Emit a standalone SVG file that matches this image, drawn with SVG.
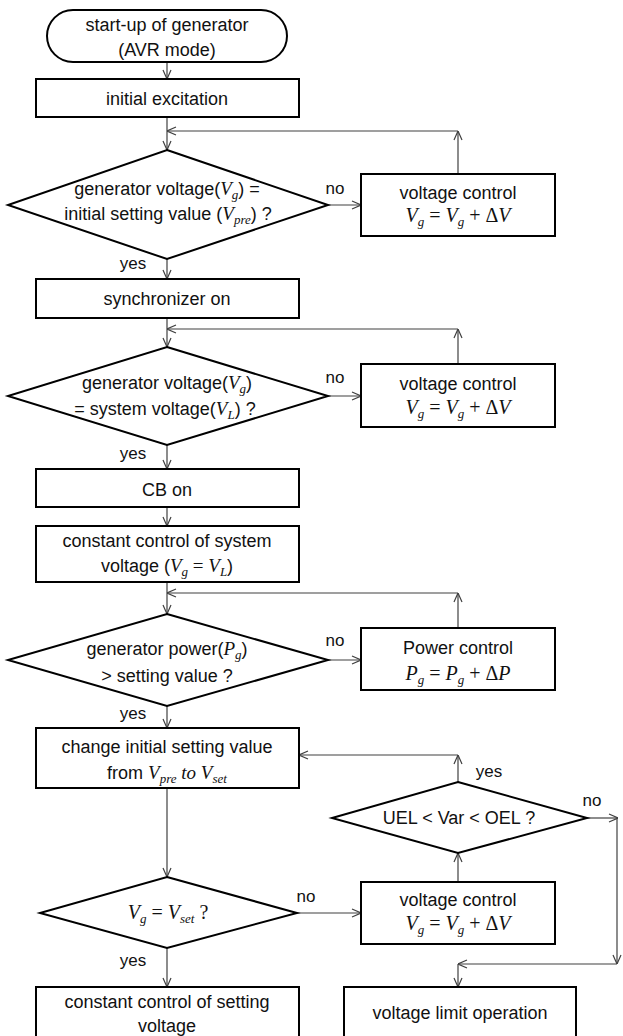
<svg xmlns="http://www.w3.org/2000/svg" width="623" height="1036" viewBox="0 0 623 1036">
<style>
.box{fill:#fff;stroke:#000;stroke-width:2}
.c{fill:none;stroke:#404040;stroke-width:1.2;marker-end:url(#a)}
.t{font-family:"Liberation Sans",Arial,sans-serif;font-size:18px;fill:#111;text-anchor:middle}
.l{font-family:"Liberation Sans",Arial,sans-serif;font-size:17px;fill:#111;text-anchor:middle}
.i{font-family:"Liberation Serif","Times New Roman",serif;font-style:italic;font-size:19px}
.s{font-family:"Liberation Serif","Times New Roman",serif;font-style:italic;font-size:13px}
.m{font-family:"Liberation Serif","Times New Roman",serif;font-size:20px;fill:#111;text-anchor:middle}
</style>
<defs>
<marker id="a" viewBox="0 0 10 10" refX="10" refY="5" markerWidth="10" markerHeight="10" orient="auto" markerUnits="userSpaceOnUse">
<path d="M1,1 L10,5 L1,9" fill="none" stroke="#404040" stroke-width="1.2"/>
</marker>
</defs>
<rect width="623" height="1036" fill="#fff"/>

<g id="connectors">
<path class="c" d="M167,62 V79"/>
<path class="c" d="M167,117 V150"/>
<path class="c" d="M458,174 V131"/>
<path class="c" d="M458,131 H167"/>
<path class="c" d="M328,205 H361"/>
<path class="c" d="M167,259 V279"/>
<path class="c" d="M167,318 V347"/>
<path class="c" d="M458,364 V329"/>
<path class="c" d="M458,329 H167"/>
<path class="c" d="M328,396 H361"/>
<path class="c" d="M167,445 V469"/>
<path class="c" d="M167,507 V526"/>
<path class="c" d="M167,582 V614"/>
<path class="c" d="M458,628 V593"/>
<path class="c" d="M458,593 H167"/>
<path class="c" d="M328,660 H361"/>
<path class="c" d="M167,706 V728"/>
<path class="c" d="M167,788 V877"/>
<path class="c" d="M297,913 H361"/>
<path class="c" d="M458,882 V853"/>
<path class="c" d="M458,782 V755"/>
<path class="c" d="M458,755 H299"/>
<path class="c" d="M587,818 H618"/>
<path class="c" d="M617,818 V964"/>
<path class="c" d="M617,964 H458"/>
<path class="c" d="M458,964 V987"/>
<path class="c" d="M167,948 V987"/>
<text class="l" x="335" y="194">no</text>
<text class="l" x="133" y="269">yes</text>
<text class="l" x="335" y="383">no</text>
<text class="l" x="133" y="459">yes</text>
<text class="l" x="335" y="646">no</text>
<text class="l" x="133" y="719">yes</text>
<text class="l" x="489" y="777">yes</text>
<text class="l" x="592" y="806">no</text>
<text class="l" x="306" y="902">no</text>
<text class="l" x="133" y="966">yes</text>
</g>

<g id="start">
<rect class="box" x="47" y="10" width="240" height="52" rx="26"/>
<text class="t" x="167" y="31">start-up of generator</text>
<text class="t" x="167" y="56">(AVR mode)</text>
</g>

<g id="initial-excitation">
<rect class="box" x="36" y="79" width="263" height="38"/>
<text class="t" x="167" y="105">initial excitation</text>
</g>

<g id="decision1">
<polygon class="box" points="167,150 328,205 167,259 8,205"/>
<text class="t" x="167" y="195">generator voltage(<tspan class="i">V</tspan><tspan class="s" dy="4">g</tspan><tspan dy="-4">) =</tspan></text>
<text class="t" x="168" y="220">initial setting value (<tspan class="i">V</tspan><tspan class="s" dy="4">pre</tspan><tspan dy="-4">) ?</tspan></text>
</g>

<g id="voltage-control1">
<rect class="box" x="361" y="174" width="194" height="62"/>
<text class="t" x="458" y="199">voltage control</text>
<text class="m" x="458" y="222"><tspan font-style="italic">V</tspan><tspan class="s" dy="4">g</tspan><tspan dy="-4"> = </tspan><tspan font-style="italic">V</tspan><tspan class="s" dy="4">g</tspan><tspan dy="-4"> + Δ</tspan><tspan font-style="italic">V</tspan></text>
</g>

<g id="synchronizer">
<rect class="box" x="36" y="279" width="263" height="39"/>
<text class="t" x="167" y="305">synchronizer on</text>
</g>

<g id="decision2">
<polygon class="box" points="167,347 328,396 167,445 8,396"/>
<text class="t" x="167" y="389">generator voltage(<tspan class="i">V</tspan><tspan class="s" dy="4">g</tspan><tspan dy="-4">)</tspan></text>
<text class="t" x="165" y="415">= system voltage(<tspan class="i">V</tspan><tspan class="s" dy="4">L</tspan><tspan dy="-4">) ?</tspan></text>
</g>

<g id="voltage-control2">
<rect class="box" x="361" y="364" width="194" height="63"/>
<text class="t" x="458" y="390">voltage control</text>
<text class="m" x="458" y="414"><tspan font-style="italic">V</tspan><tspan class="s" dy="4">g</tspan><tspan dy="-4"> = </tspan><tspan font-style="italic">V</tspan><tspan class="s" dy="4">g</tspan><tspan dy="-4"> + Δ</tspan><tspan font-style="italic">V</tspan></text>
</g>

<g id="cb-on">
<rect class="box" x="36" y="469" width="263" height="38"/>
<text class="t" x="167" y="496">CB on</text>
</g>

<g id="constant-system">
<rect class="box" x="36" y="526" width="263" height="56"/>
<text class="t" x="167" y="547">constant control of system</text>
<text class="t" x="167" y="572">voltage (<tspan class="i">V</tspan><tspan class="s" dy="4">g</tspan><tspan dy="-4" font-family="Liberation Serif" font-size="19"> = </tspan><tspan class="i">V</tspan><tspan class="s" dy="4">L</tspan><tspan dy="-4">)</tspan></text>
</g>

<g id="decision3">
<polygon class="box" points="167,614 328,660 167,706 8,660"/>
<text class="t" x="167" y="655">generator power(<tspan class="i">P</tspan><tspan class="s" dy="4">g</tspan><tspan dy="-4">)</tspan></text>
<text class="t" x="167" y="682">&gt; setting value ?</text>
</g>

<g id="power-control">
<rect class="box" x="361" y="628" width="194" height="62"/>
<text class="t" x="458" y="654">Power control</text>
<text class="m" x="458" y="680"><tspan font-style="italic">P</tspan><tspan class="s" dy="4">g</tspan><tspan dy="-4"> = </tspan><tspan font-style="italic">P</tspan><tspan class="s" dy="4">g</tspan><tspan dy="-4"> + Δ</tspan><tspan font-style="italic">P</tspan></text>
</g>

<g id="change-setting">
<rect class="box" x="36" y="728" width="263" height="60"/>
<text class="t" x="167" y="753">change initial setting value</text>
<text class="t" x="167" y="779">from <tspan class="i">V</tspan><tspan class="s" dy="4">pre</tspan><tspan class="i" dy="-4"> to </tspan><tspan class="i">V</tspan><tspan class="s" dy="4">set</tspan></text>
</g>

<g id="decision-uel">
<polygon class="box" points="458,782 587,818 458,853 332,818"/>
<text class="t" x="459" y="824">UEL &lt; Var &lt; OEL ?</text>
</g>

<g id="voltage-control3">
<rect class="box" x="361" y="882" width="194" height="62"/>
<text class="t" x="458" y="906">voltage control</text>
<text class="m" x="458" y="930"><tspan font-style="italic">V</tspan><tspan class="s" dy="4">g</tspan><tspan dy="-4"> = </tspan><tspan font-style="italic">V</tspan><tspan class="s" dy="4">g</tspan><tspan dy="-4"> + Δ</tspan><tspan font-style="italic">V</tspan></text>
</g>

<g id="decision4">
<polygon class="box" points="167,877 297,913 167,948 40,913"/>
<text class="m" x="168" y="919"><tspan font-style="italic">V</tspan><tspan class="s" dy="4">g</tspan><tspan dy="-4"> = </tspan><tspan font-style="italic">V</tspan><tspan class="s" dy="4">set</tspan><tspan dy="-4"> ?</tspan></text>
</g>

<g id="constant-setting">
<rect class="box" x="36" y="987" width="263" height="60"/>
<text class="t" x="167" y="1008">constant control of setting</text>
<text class="t" x="167" y="1032">voltage</text>
</g>

<g id="voltage-limit">
<rect class="box" x="344" y="987" width="232" height="60"/>
<text class="t" x="460" y="1019">voltage limit operation</text>
</g>
</svg>
